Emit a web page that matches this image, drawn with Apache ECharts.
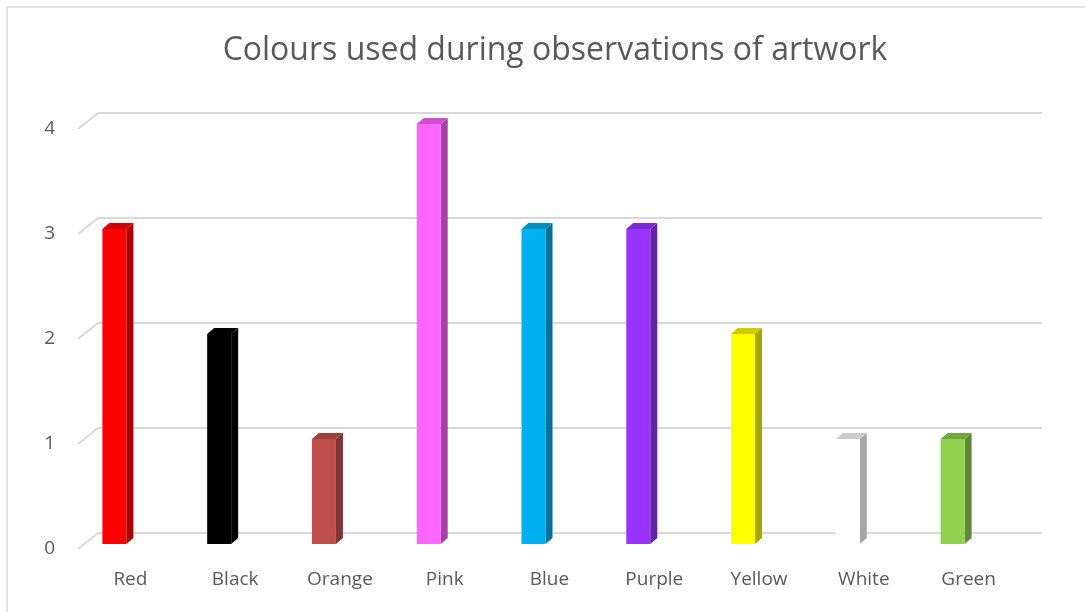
<!DOCTYPE html>
<html>
<head>
<meta charset="utf-8">
<script src="https://cdn.jsdelivr.net/npm/echarts@6/dist/echarts.min.js"></script>
<style>
html,body{margin:0;padding:0;background:#fff;}
#chart{width:1085px;height:612px;}
</style>
</head>
<body>
<div id="chart"></div>
<script>
const categories = ['Red','Black','Orange','Pink','Blue','Purple','Yellow','White','Green'];
const values = [3, 2, 1, 4, 3, 3, 2, 1, 1];
const barColors = ['#FF0000','#000000','#C0504D','#FF66FF','#00B0F0','#9933FF','#FFFF00','#FFFFFF','#92D050'];
const yTicks = [0, 1, 2, 3, 4];
const titleText = 'Colours used during observations of artwork';

function shade(hex, f){
  const n = parseInt(hex.slice(1), 16);
  const r = Math.round(((n >> 16) & 255) * f);
  const g = Math.round(((n >> 8) & 255) * f);
  const b = Math.round((n & 255) * f);
  return 'rgb(' + r + ',' + g + ',' + b + ')';
}

const FONT = '"Open Sans", "Liberation Sans", sans-serif';
const chart = echarts.init(document.getElementById('chart'), null, {renderer: 'canvas'});

function renderGrid(params, api){
  const v = api.value(1);
  const cs = params.coordSys;
  const y = api.coord([0, v])[1];
  const dx = 20, dy = 16;
  return {
    type: 'polyline',
    shape: {points: [[cs.x, y], [cs.x + dx, y - dy], [cs.x + cs.width + 21, y - dy]]},
    style: {stroke: '#D9D9D9', lineWidth: 2, fill: null}
  };
}

function renderBar(params, api){
  const i = api.value(0), v = api.value(1);
  const top = api.coord([i, v]);
  const base = api.coord([i, 0]);
  const w = 24, dx = 7, dy = 6, shiftX = -28, shiftY = -5;
  const x0 = top[0] + shiftX, x1 = x0 + w;
  const yT = top[1] + shiftY, yB = base[1] + shiftY;
  const c = barColors[i];
  return {
    type: 'group',
    children: [
      {type: 'polygon', shape: {points: [[x1, yT], [x1 + dx, yT - dy], [x1 + dx, yB - dy], [x1, yB]]},
       style: {fill: shade(c, 0.65)}},
      {type: 'polygon', shape: {points: [[x0, yT], [x0 + dx, yT - dy], [x1 + dx, yT - dy], [x1, yT]]},
       style: {fill: shade(c, 0.8)}},
      {type: 'rect', shape: {x: x0, y: yT, width: w, height: yB - yT},
       style: {fill: c}}
    ]
  };
}

chart.setOption({
  animation: false,
  backgroundColor: '#fff',
  title: {
    text: titleText,
    left: 550, top: 30, textAlign: 'center',
    textStyle: {fontFamily: FONT, fontSize: 32, fontWeight: 'normal', color: '#595959'}
  },
  graphic: [{
    type: 'rect', shape: {x: 7, y: 7, width: 1200, height: 800},
    style: {fill: null, stroke: '#D9D9D9', lineWidth: 1.5}, silent: true, z: -10
  }],
  grid: {left: 78, right: 64, top: 129, bottom: 63},
  xAxis: {
    type: 'category', data: categories,
    axisLine: {show: false}, axisTick: {show: false}, splitLine: {show: false},
    axisLabel: {margin: 21, fontFamily: FONT, fontSize: 19, color: '#595959'}
  },
  yAxis: {
    type: 'value', min: 0, max: 4, interval: 1,
    axisLine: {show: false}, axisTick: {show: false}, splitLine: {show: false},
    axisLabel: {margin: 23, fontFamily: FONT, fontSize: 19, color: '#595959'}
  },
  series: [
    {type: 'custom', renderItem: renderGrid, data: yTicks.map(t => [0, t]), z: 1, silent: true},
    {type: 'custom', renderItem: renderBar, data: values.map((v, i) => [i, v]), z: 2}
  ]
});
</script>
</body>
</html>
